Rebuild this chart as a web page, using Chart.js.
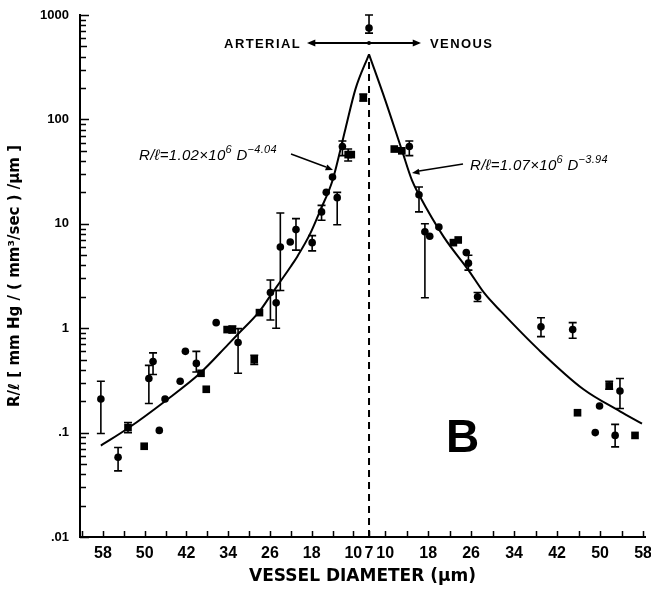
<!DOCTYPE html>
<html><head><meta charset="utf-8">
<script src="https://cdn.jsdelivr.net/npm/chart.js@4.4.1/dist/chart.umd.min.js"></script>
<style>html,body{margin:0;padding:0;background:#fff;}canvas{display:block;}</style>
</head><body>
<canvas id="c" width="651" height="592"></canvas>
<script>
// ---- tick labels ----
const xTickLabels = [58, 50, 42, 34, 26, 18, 10, 7, 10, 18, 26, 34, 42, 50, 58];
const yTickValues = [0.01, 0.1, 1, 10, 100, 1000];
const yTickLabels = ['.01', '.1', '1', '10', '100', '1000'];

// ---- arterial (left half) measurements: diameter (um), R/l, error low, error high ----
const artDotD  = [58.4, 55.1, 49.2, 48.4, 47.2, 46.1, 43.2, 42.2, 40.1, 36.3, 32.1, 25.9, 24.8, 24.0, 22.1, 21.0, 17.9, 16.1, 15.2, 14.0, 13.1, 12.1, 7.0];
const artDotR  = [0.21, 0.058, 0.33, 0.48, 0.105, 0.21, 0.31, 0.60, 0.46, 1.13, 0.73, 2.2, 1.75, 6.0, 6.7, 8.8, 6.6, 13, 20, 28, 17.8, 55, 750];
const artDotLo = [0.098, 0.043, 0.19, 0.36, null, null, null, null, 0.38, null, 0.37, 1.2, 1.0, 2.3, null, 5.6, 5.5, 10.8, null, null, 9.8, 45, 670];
const artDotHi = [0.31, 0.072, 0.44, 0.58, null, null, null, null, 0.60, null, 0.99, 2.9, 2.3, 12.7, null, 11.2, 7.7, 15, null, null, 20, 62, 1000];

const artSqD  = [53.2, 50.1, 39.2, 38.2, 34.2, 33.2, 29.0, 28.0, 11.0, 10.4, 8.1];
const artSqR  = [0.112, 0.074, 0.37, 0.26, 0.97, 0.97, 0.50, 1.41, 46, 46, 161];
const artSqLo = [0.10, null, null, null, null, 0.9, 0.45, null, 40, null, 150];
const artSqHi = [0.125, null, null, null, null, 1.05, 0.55, null, 52, null, 175];

// ---- venous (right half) measurements ----
const venDotD  = [14.5, 16.3, 17.4, 18.3, 20.0, 25.1, 25.5, 27.2, 39.0, 44.9, 49.1, 49.9, 53.7, 52.8];
const venDotR  = [55, 19, 8.4, 7.6, 9.3, 5.3, 4.2, 2.0, 1.03, 0.97, 0.10, 0.18, 0.25, 0.094];
const venDotLo = [45, 13, 1.96, null, null, null, 3.6, 1.8, 0.83, 0.8, null, null, 0.17, 0.073];
const venDotHi = [62, 22.5, 10, null, null, null, 5.0, 2.2, 1.26, 1.13, null, null, 0.33, 0.12];

const venSqD  = [11.7, 13.1, 22.7, 23.6, 45.8, 51.7, 56.5];
const venSqR  = [52, 50, 6.6, 7.0, 0.155, 0.28, 0.094];
const venSqLo = [null, null, null, null, null, 0.26, null];
const venSqHi = [null, null, null, null, null, 0.31, null];

// ---- fitted curves ----
const artCurveD = [7, 9.6, 11.5, 14, 16.3, 18.3, 20.7, 22, 24, 25.9, 28, 32.1, 34, 39.4, 46.1, 53.2, 58.4];
const artCurveR = [420, 195, 82, 26, 13.6, 8.0, 4.9, 3.9, 2.8, 2.05, 1.45, 0.88, 0.70, 0.37, 0.20, 0.11, 0.075];
const venCurveD = [7, 10, 13.1, 15, 16.3, 20.9, 25.5, 28.5, 31.6, 38.6, 46.9, 53.7, 57.8];
const venCurveR = [420, 154, 51, 26, 19, 7.5, 3.6, 2.15, 1.44, 0.62, 0.26, 0.16, 0.122];

const dividerR = [0.01, 420];

// ---- axis mapping: arterial to the left of D=7, venous to the right ----
const RIGHT_STRETCH = 1.03;
const artPos = d => -(d - 7);
const venPos = d => (d - 7) * RIGHT_STRETCH;
const xTickPos = xTickLabels.map((d, i) => i < 7 ? artPos(d) : (i === 7 ? 0 : venPos(d)));

const pts = (D, R, f) => D.map((d, i) => ({x: f(d), y: R[i]}));
const FAM = '"Liberation Sans", Arial, sans-serif';

const errorBars = {
  id: 'errorBars',
  beforeDatasetsDraw(chart) {
    const {ctx, scales: {x, y}} = chart;
    ctx.save();
    ctx.strokeStyle = '#000';
    ctx.lineWidth = 1.6;
    chart.data.datasets.forEach(ds => {
      if (!ds.errLo) return;
      ds.data.forEach((p, i) => {
        const lo = ds.errLo[i], hi = ds.errHi[i];
        if (lo == null || hi == null) return;
        const px = x.getPixelForValue(p.x);
        const y1 = y.getPixelForValue(lo), y2 = y.getPixelForValue(hi);
        ctx.beginPath();
        ctx.moveTo(px, y1); ctx.lineTo(px, y2);
        ctx.moveTo(px - 4, y1); ctx.lineTo(px + 4, y1);
        ctx.moveTo(px - 4, y2); ctx.lineTo(px + 4, y2);
        ctx.stroke();
      });
    });
    ctx.restore();
  }
};

const inwardTicks = {
  id: 'inwardTicks',
  afterDraw(chart) {
    const {ctx, scales: {x, y}, chartArea: a} = chart;
    ctx.save();
    ctx.strokeStyle = '#000';
    ctx.lineWidth = 1.5;
    ctx.beginPath();
    for (let e = -2; e <= 3; e++) {
      for (let m = 1; m <= 9; m++) {
        const v = m * Math.pow(10, e);
        if (v > 1000.0001) break;
        const py = Math.round(y.getPixelForValue(v)) + 0.5;
        const len = m === 1 ? 9 : (m === 5 ? 7 : 6);
        ctx.moveTo(a.left, py); ctx.lineTo(a.left + len, py);
      }
    }
    const xs = [0];
    for (let d = 10; d <= 62; d += 4) xs.push(artPos(d));
    for (let d = 10; d <= 58; d += 4) xs.push(venPos(d));
    xs.forEach(v => {
      const px = Math.round(x.getPixelForValue(v)) + 0.5;
      if (px < a.left + 2 || px > a.right + 1) return;
      ctx.moveTo(px, a.bottom); ctx.lineTo(px, a.bottom - 6);
    });
    ctx.stroke();
    ctx.restore();
  }
};

function arrowHead(ctx, x0, y0, x1, y1, size) {
  const ang = Math.atan2(y1 - y0, x1 - x0);
  ctx.beginPath();
  ctx.moveTo(x1, y1);
  ctx.lineTo(x1 - size * Math.cos(ang - 0.4), y1 - size * Math.sin(ang - 0.4));
  ctx.lineTo(x1 - size * Math.cos(ang + 0.4), y1 - size * Math.sin(ang + 0.4));
  ctx.closePath();
  ctx.fill();
}

function supText(ctx, parts, x, yb, size) {
  let cx = x;
  parts.forEach(([t, sup]) => {
    ctx.font = 'italic ' + (sup ? Math.round(size * 0.7) : size) + 'px ' + FAM;
    ctx.fillText(t, cx, sup ? yb - size * 0.45 : yb);
    cx += ctx.measureText(t).width;
  });
}

const annotations = {
  id: 'annotations',
  afterDraw(chart) {
    const {ctx, scales: {x}} = chart;
    const cx = x.getPixelForValue(0);
    ctx.save();
    ctx.fillStyle = '#000';
    ctx.strokeStyle = '#000';
    // ARTERIAL <- -> VENOUS
    ctx.font = 'bold 13px ' + FAM;
    ctx.letterSpacing = '1.4px';
    ctx.textBaseline = 'middle';
    ctx.textAlign = 'right';
    ctx.fillText('ARTERIAL', cx - 68, 44);
    ctx.textAlign = 'left';
    ctx.fillText('VENOUS', cx + 61, 44);
    ctx.letterSpacing = '0px';
    ctx.lineWidth = 2;
    ctx.beginPath();
    ctx.moveTo(cx - 60, 43); ctx.lineTo(cx + 50, 43);
    ctx.stroke();
    arrowHead(ctx, cx, 43, cx - 62, 43, 9);
    arrowHead(ctx, cx, 43, cx + 52, 43, 9);
    ctx.beginPath(); ctx.arc(cx, 43, 2, 0, Math.PI * 2); ctx.fill();

    // fit equations
    ctx.textAlign = 'left';
    ctx.textBaseline = 'alphabetic';
    ctx.letterSpacing = '0.3px';
    supText(ctx, [['R/ℓ=1.02×10', false], ['6', true], [' D', false], ['−4.04', true]], 139, 160, 15);
    supText(ctx, [['R/ℓ=1.07×10', false], ['6', true], [' D', false], ['−3.94', true]], 470, 170, 15);
    ctx.letterSpacing = '0px';
    ctx.lineWidth = 1.5;
    ctx.beginPath(); ctx.moveTo(291, 154); ctx.lineTo(326, 167); ctx.stroke();
    arrowHead(ctx, 291, 154, 333, 170, 8);
    ctx.beginPath(); ctx.moveTo(463, 164); ctx.lineTo(419, 171); ctx.stroke();
    arrowHead(ctx, 463, 164, 412, 173, 8);

    // panel letter
    ctx.font = 'bold 46px "Liberation Sans Narrow", ' + FAM;
    ctx.fillText('B', 446, 452);
    ctx.restore();
  }
};

const dotStyle = {pointStyle: 'circle', pointRadius: 3.8, backgroundColor: '#000', borderColor: '#000', borderWidth: 0, showLine: false};
const sqStyle = {pointStyle: 'rect', pointRadius: 5.4, backgroundColor: '#000', borderColor: '#000', borderWidth: 0, showLine: false};
const curveStyle = {showLine: true, pointRadius: 0, borderColor: '#000', borderWidth: 2, cubicInterpolationMode: 'monotone', fill: false};

new Chart(document.getElementById('c'), {
  type: 'scatter',
  data: {
    datasets: [
      {label: 'arterial fit', data: pts(artCurveD, artCurveR, artPos).reverse(), ...curveStyle},
      {label: 'venous fit', data: pts(venCurveD, venCurveR, venPos), ...curveStyle},
      {label: 'divider', data: dividerR.map(r => ({x: 0, y: r})), showLine: true, pointRadius: 0, borderColor: '#000', borderWidth: 2, borderDash: [7, 5]},
      {label: 'arterial', data: pts(artDotD, artDotR, artPos), errLo: artDotLo, errHi: artDotHi, ...dotStyle},
      {label: 'arterial (sq)', data: pts(artSqD, artSqR, artPos), errLo: artSqLo, errHi: artSqHi, ...sqStyle},
      {label: 'venous', data: pts(venDotD, venDotR, venPos), errLo: venDotLo, errHi: venDotHi, ...dotStyle},
      {label: 'venous (sq)', data: pts(venSqD, venSqR, venPos), errLo: venSqLo, errHi: venSqHi, ...sqStyle}
    ]
  },
  options: {
    responsive: false,
    animation: false,
    layout: {padding: {left: 4, right: 6, top: 15, bottom: 3}},
    plugins: {legend: {display: false}, tooltip: {enabled: false}},
    scales: {
      x: {
        type: 'linear', min: -55.4, max: 52.9,
        grid: {display: false, drawTicks: false},
        border: {display: true, color: '#000', width: 2},
        afterBuildTicks: s => { s.ticks = xTickPos.map(v => ({value: v})); },
        ticks: {autoSkip: false, maxRotation: 0, padding: 7, color: '#000',
          font: {family: FAM, size: 16, weight: 'bold'},
          callback: (v, i) => String(xTickLabels[i])},
        title: {display: true, text: 'VESSEL DIAMETER (μm)', color: '#000',
          font: {family: '"DejaVu Sans", sans-serif', size: 17, weight: 'bold'}, padding: {top: 2, bottom: 2}},
        afterFit: s => { s.height = 52; s.paddingLeft = 0; s.paddingRight = 0; }
      },
      y: {
        type: 'logarithmic', min: 0.01, max: 1000,
        grid: {display: false, drawTicks: false},
        border: {display: true, color: '#000', width: 2},
        afterBuildTicks: s => { s.ticks = yTickValues.map(v => ({value: v})); },
        ticks: {autoSkip: false, padding: 11, color: '#000',
          font: {family: FAM, size: 13, weight: 'bold'},
          callback: (v, i) => yTickLabels[i]},
        title: {display: true, text: 'R/ℓ [ mm Hg / ( mm³/sec ) /μm ]', color: '#000',
          font: {family: '"DejaVu Sans", sans-serif', size: 15, weight: 'bold'}, padding: {top: 2, bottom: 2}},
        afterFit: s => { s.width = 76; s.paddingTop = 0; s.paddingBottom = 0; }
      }
    }
  },
  plugins: [errorBars, inwardTicks, annotations]
});
</script>
</body></html>
